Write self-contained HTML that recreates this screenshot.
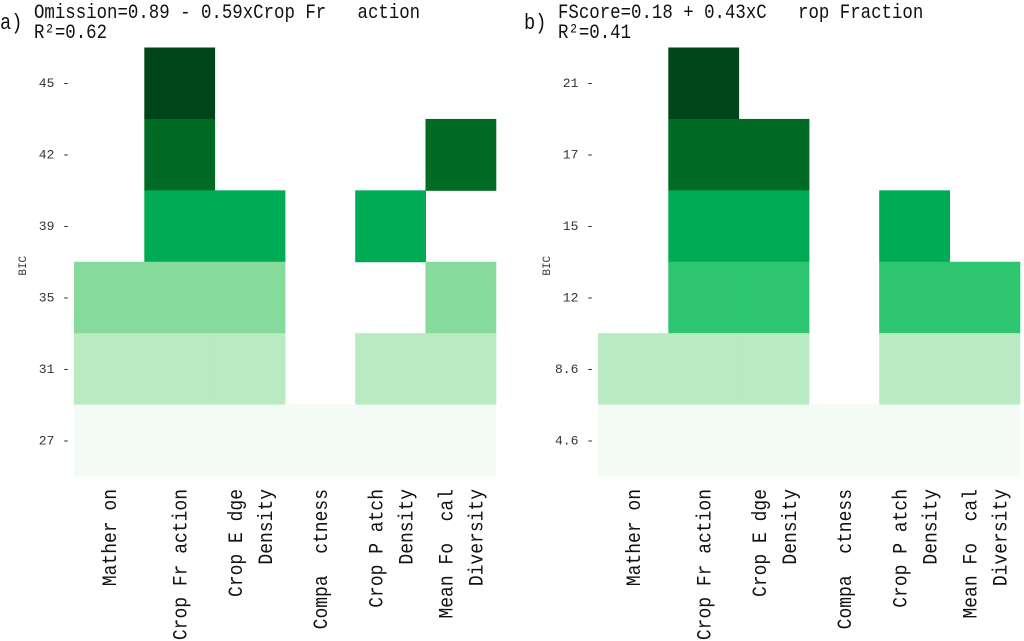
<!DOCTYPE html>
<html><head><meta charset="utf-8"><style>
body{margin:0;background:#fff;}
svg{display:block;font-family:"Liberation Mono",monospace;}
text{white-space:pre;}
</style></head><body>
<svg id="chart" width="1024" height="641" viewBox="0 0 1024 641"></svg>
<script>
const categories = ["Mather on", "Crop Fr action", "Crop E dge|Density", "Compa  ctness", "Crop P atch|Density", "Mean Fo  cal|Diversity"];
const rowLabelsA = ["45", "42", "39", "35", "31", "27"];
const rowLabelsB = ["21", "17", "15", "12", "8.6", "4.6"];
// level per cell (0 = empty), rows top->bottom, columns as categories
const levelsA = [
  [0,5,0,0,0,0],
  [0,4,0,0,0,4],
  [0,3,3,0,3,0],
  [2,2,2,0,0,2],
  [1.5,1.5,1.5,0,1.5,1.5],
  [1,1,1,1,1,1]
];
const levelsB = [
  [0,5,0,0,0,0],
  [0,4,4,0,0,0],
  [0,3,3,0,3,0],
  [0,2.5,2.5,0,2.5,2.5],
  [1.5,1.5,1.5,0,1.5,1.5],
  [1,1,1,1,1,1]
];
const titleA = ["Omission=0.89 - 0.59xCrop Fr   action", "R²=0.62"];
const titleB = ["FScore=0.18 + 0.43xC   rop Fraction", "R²=0.41"];

const colorFor = {1:"#f4fbf5",1.5:"#b9eac2",2:"#86da9c",2.5:"#2dc56f",3:"#00ab55",4:"#006b24",5:"#00441a"};
const svg = document.getElementById('chart');
const NS = "http://www.w3.org/2000/svg";
function mk(tag, attrs, parent){
  const e = document.createElementNS(NS, tag);
  for (const k in attrs) e.setAttribute(k, attrs[k]);
  (parent||svg).appendChild(e); return e;
}
function panel(x0, letter, title, rowLabels, levels, id){
  const g = mk('g', {});
  
  
  const cw = 70.3, top = 47.5, bot = 476, rh = (bot - top) / rowLabels.length;
  const xs = c => x0 + c * cw;
  const ys = r => top + r * rh;
  let t = mk('text', {x: 0, y: 0, 'font-size': 22, fill: '#111', transform: `translate(${x0 - 74},29) scale(0.85,1)`}, g); t.textContent = letter;
  
  
  title.forEach((s, i) => {
    const tt = mk('text', {x: 0, y: 0, 'font-size': 20, fill: '#111', transform: `translate(${x0 - 40},${18 + i * 20}) scale(0.87,1)`}, g);
    tt.textContent = s;
    
    
  });
  levels.forEach((row, r) => row.forEach((lv, c) => {
    if (!lv) return;
    const rect = mk('rect', {x: xs(c), y: ys(r), width: cw + 0.5, height: rh + 0.5, fill: colorFor[lv]}, g);
    
    
  }));
  rowLabels.forEach((l, r) => {
    const tx = mk('text', {x: x0 - 4, y: ys(r) + rh / 2 + 4, 'font-size': 13, fill: '#333', 'text-anchor': 'end'}, g);
    tx.textContent = l + " -";
    
    
  });
  const yl = mk('text', {x: 0, y: 0, 'font-size': 11, fill: '#333', 'text-anchor': 'middle', transform: `translate(${x0 - 48},${(top + bot) / 2 + 4}) rotate(-90)`}, g);
  yl.textContent = "BIC";
  
  
  categories.forEach((cat, c) => {
    const lines = cat.split('|');
    const cx = xs(c) + cw / 2;
    lines.forEach((ln, i) => {
      const off = lines.length === 1 ? 0 : (i === 0 ? -15 : 15);
      const lx = cx + off + 7;
      const tx = mk('text', {x: 0, y: 0, 'font-size': 20, fill: '#111', 'text-anchor': 'end', transform: `translate(${lx},489) rotate(-90) scale(0.9,1)`}, g);
      tx.textContent = ln;
      
      
    });
  });
}
panel(74, "a)", titleA, rowLabelsA, levelsA, 'a');
panel(598, "b)", titleB, rowLabelsB, levelsB, 'b');
</script>
</body></html>
